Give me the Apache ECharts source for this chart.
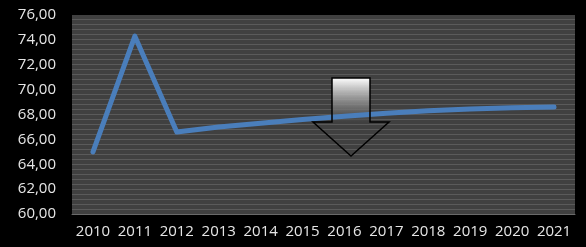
<!DOCTYPE html>
<html>
<head>
<meta charset="utf-8">
<script src="https://cdn.jsdelivr.net/npm/echarts@6/dist/echarts.min.js"></script>
<style>
  html,body{margin:0;padding:0;background:#000;}
  #chart{width:586px;height:247px;}
</style>
</head>
<body>
<div id="chart"></div>
<script>
const years = ['2010','2011','2012','2013','2014','2015','2016','2017','2018','2019','2020','2021']
const values = [65.0, 74.3, 66.6, 67.0, 67.3, 67.6, 67.85, 68.1, 68.3, 68.45, 68.55, 68.6]
const yMin = 60
const yMax = 76
const yStep = 2

// striped plot background
function stripes(){
  const c = document.createElement('canvas')
  c.width = 8
  c.height = 5
  const ctx = c.getContext('2d')
  ctx.fillStyle = '#404040'
  ctx.fillRect(0, 0, 8, 5)
  ctx.fillStyle = '#5a5a5a'
  ctx.fillRect(0, 4, 8, 1)
  return c
}

const chart = echarts.init(document.getElementById('chart'))
const font = 'Open Sans'

const option = {
  backgroundColor: '#000',
  animation: false,
  grid: {
    left: 72, right: 11, top: 15, bottom: 33,
    show: true,
    backgroundColor: {image: stripes(), repeat: 'repeat'},
    borderWidth: 0
  },
  xAxis: {
    type: 'category',
    data: years,
    boundaryGap: true,
    axisLine: {show: true, lineStyle: {color: '#6a6a6a', width: 1}},
    axisTick: {show: false},
    axisLabel: {color: '#e6e6e6', fontFamily: font, fontSize: 15, margin: 10, interval: 0, hideOverlap: false}
  },
  yAxis: {
    type: 'value',
    min: yMin, max: yMax, interval: yStep,
    splitLine: {show: false},
    axisLine: {show: false},
    axisTick: {show: false},
    axisLabel: {
      color: '#e6e6e6', fontFamily: font, fontSize: 15, margin: 16,
      formatter: v => v.toFixed(2).replace('.', ',')
    }
  },
  series: [{
    type: 'line',
    data: values,
    z: 3,
    symbol: 'none',
    lineStyle: {color: '#4a7ebb', width: 5, cap: 'round', join: 'round'}
  }],
  graphic: [
    {
      type: 'rect', z: 1,
      shape: {x: 332, y: 78, width: 38, height: 44},
      style: {
        fill: new echarts.graphic.LinearGradient(0, 0, 0, 1, [
          {offset: 0, color: '#ffffff'},
          {offset: 1, color: 'rgba(64,64,64,0.6)'}
        ])
      }
    },
    {
      type: 'polygon', z: 10,
      shape: {points: [[332,78],[370,78],[370,122],[389,122],[351,156],[313,122],[332,122]]},
      style: {fill: 'none', stroke: '#000', lineWidth: 1.5}
    }
  ]
}
chart.setOption(option)
</script>
</body>
</html>
